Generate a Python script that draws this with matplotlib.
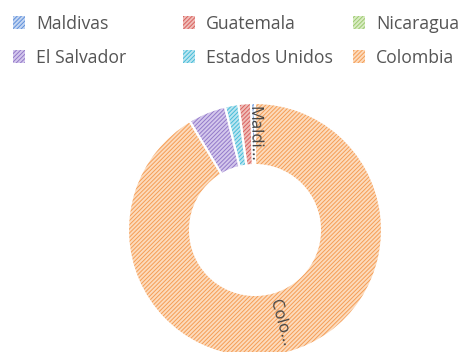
import matplotlib
matplotlib.use("Agg")
import matplotlib.pyplot as plt
from matplotlib.patches import Patch
import numpy as np

plt.rcParams['font.family'] = ['Open Sans', 'DejaVu Sans']
plt.rcParams['hatch.linewidth'] = 0.7

# legend order
categories = ["Maldivas", "Guatemala", "Nicaragua", "El Salvador", "Estados Unidos", "Colombia"]
values = [0.5, 1.6, 0.0, 4.8, 1.7, 91.4]
colors = ["#5f90db", "#d9625f", "#9dcb70", "#9379c9", "#46bcd9", "#f59d55"]
fills = ["#c4d6f2", "#efbdb8", "#d9ebc3", "#d4c8ec", "#bbe5f0", "#fcdbbd"]
slice_labels = {"Maldivas": "Maldi...", "Colombia": "Colo..."}

# draw order: descending clockwise from 12 o'clock
order = sorted(range(len(categories)), key=lambda i: -values[i])
vals = [values[i] for i in order]

W, H = 464, 352
fig = plt.figure(figsize=(W / 100, H / 100), dpi=100)
cx, cy, R = 255, 230, 127
ax = fig.add_axes([(cx - R) / W, (H - cy - R) / H, 2 * R / W, 2 * R / H])

width = (127 - 65) / 127
common = dict(startangle=90, counterclock=False, radius=1)
base, _ = ax.pie(vals, colors=[fills[i] for i in order],
                 wedgeprops=dict(width=width, linewidth=0), **common)
hatched, _ = ax.pie(vals, colors=[fills[i] for i in order],
                    wedgeprops=dict(width=width, linewidth=0), **common)
for w, i in zip(hatched, order):
    w.set_facecolor('none')
    w.set_edgecolor(colors[i])
    w.set_hatch('////////')
    w.set_linewidth(0)
borders, _ = ax.pie(vals, colors=[fills[i] for i in order],
                    wedgeprops=dict(width=width, linewidth=1.5, edgecolor='white'), **common)
for w in borders:
    w.set_facecolor('none')

ax.set_xlim(-1, 1)
ax.set_ylim(-1, 1)
ax.set_aspect('equal')
ax.axis('off')

rmid = 1 - width / 2
for w, i in zip(base, order):
    name = categories[i]
    if name in slice_labels:
        a = (w.theta1 + w.theta2) / 2
        x, y = rmid * np.cos(np.radians(a)), rmid * np.sin(np.radians(a))
        rot = (a + 180) % 360 - 180
        if rot > 90:
            rot -= 180
        elif rot < -90:
            rot += 180
        ax.text(x, y, slice_labels[name], rotation=rot, rotation_mode='anchor',
                ha='center', va='center', fontsize=12, color='#444444')

# legend: 3 columns x 2 rows, row-major
col_x = [9, 179, 349]
for c in range(3):
    idx = [c, c + 3]
    handles = [Patch(facecolor=fills[i], edgecolor=colors[i], hatch='////////', linewidth=0)
               for i in idx]
    leg = fig.legend(handles, [categories[i] for i in idx], loc='upper left',
                     bbox_to_anchor=(col_x[c] / W, 1 - 11 / H), frameon=False, fontsize=12.7,
                     handlelength=0.7, handleheight=0.7, handletextpad=0.65,
                     labelspacing=0.92, borderpad=0.2, borderaxespad=0)
    for t in leg.get_texts():
        t.set_color('#555555')

fig.savefig("out.png", dpi=100)
